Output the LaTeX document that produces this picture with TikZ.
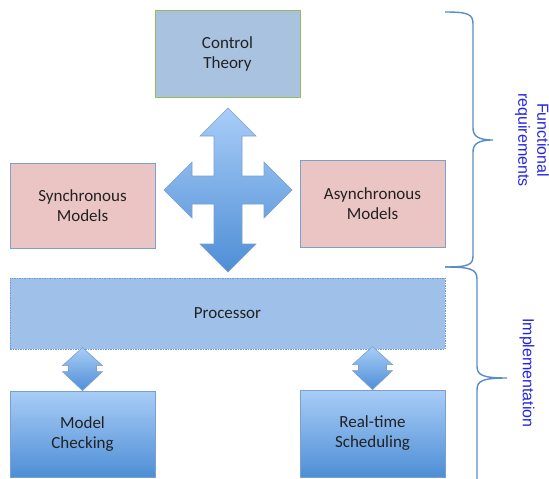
\documentclass[tikz,border=0pt]{standalone}
\usepackage{fontspec}
\setmainfont{Carlito}
\newfontfamily\sidefont{Liberation Sans}

\definecolor{ctfill}{HTML}{A8C2E0}
\definecolor{ctline}{HTML}{9BBB59}
\definecolor{pinkfill}{HTML}{EBC4C4}
\definecolor{boxline}{HTML}{7BA0CD}
\definecolor{procfill}{HTML}{9FC1E9}
\definecolor{procline}{HTML}{6E9BD1}
\definecolor{lighttop}{HTML}{A9CDF7}
\definecolor{darkbot}{HTML}{4E8ED6}
\definecolor{bracecol}{HTML}{5B8CC4}
\definecolor{sidetext}{HTML}{2424E8}
\definecolor{boxtext}{HTML}{222222}

\begin{document}
\begin{tikzpicture}[x=1pt, y=-1pt]
    \useasboundingbox (0,0) rectangle (549,479);
    \tikzset{Box/.style = {draw=boxline, line width=0.8pt, minimum width=145pt, inner sep=0pt,
                           align=center, text=boxtext, font=\fontsize{17}{20}\selectfont},
             GradBox/.style = {Box, top color=lighttop, bottom color=darkbot},
             BigArrow/.style = {draw=boxline, line width=0.6pt, top color=lighttop, bottom color=darkbot},
             Brace/.style = {draw=bracecol, line width=1.4pt},
             SideLabel/.style = {rotate=-90, align=center, text=sidetext,
                                 font=\sidefont\fontsize{16}{19}\selectfont}}

    % Boxes
    \node[Box, fill=ctfill, draw=ctline, minimum height=87pt] (control) at (227.5,53.5) {Control\\Theory};
    \node[Box, fill=pinkfill, minimum height=85pt] (sync) at (82.5,205.5) {Synchronous\\Models};
    \node[Box, fill=pinkfill, minimum height=87pt] (async) at (372.5,203.5) {Asynchronous\\Models};
    \node[Box, fill=procfill, draw=procline, dash pattern=on 1.5pt off 1pt, line width=0.6pt,
          minimum width=435pt, minimum height=71pt] (proc) at (227.5,313.5) {Processor};
    \node[GradBox, minimum height=86pt] (check) at (82.5,434) {Model\\Checking};
    \node[GradBox, minimum height=87pt] (sched) at (372.5,433.5) {Real-time\\Scheduling};

    % Arrows
    \coordinate (hub) at (228,190);
    \draw[BigArrow, shift={(hub)}] (0,-82) -- (28,-54) -- (14,-54) -- (14,-14) -- (36,-14) -- (36,-28)
        -- (64,0) -- (36,28) -- (36,14) -- (14,14) -- (14,54) -- (28,54) -- (0,82) -- (-28,54)
        -- (-14,54) -- (-14,14) -- (-36,14) -- (-36,28) -- (-64,0) -- (-36,-28) -- (-36,-14)
        -- (-14,-14) -- (-14,-54) -- (-28,-54) -- cycle;
    \foreach \b in {check,sched}
        \draw[BigArrow, shift={(\b.north)}] (0,0) -- (20,-19) -- (14,-19) -- (14,-25) -- (20,-25)
            -- (0,-43) -- (-20,-25) -- (-14,-25) -- (-14,-19) -- (-20,-19) -- cycle;

    % Braces
    \coordinate (b1) at (445,12);
    \coordinate (b2) at (445,267);
    \draw[Brace] (b1) .. controls (468,12) and (473,14) .. (473,24) -- (473,128)
        .. controls (473,136) and (478,140) .. (493,140)
        .. controls (478,140) and (473,144) .. (473,152) -- (473,256)
        .. controls (473,265) and (468,267) .. (b2);
    \draw[Brace] (b2) .. controls (470,267) and (477,269) .. (477,279) -- (477,366)
        .. controls (477,375) and (482,378) .. (507,378)
        .. controls (482,378) and (477,381) .. (477,390) -- (477,480);

    % Labels
    \node[SideLabel] (func) at (532,140) {Functional\\requirements};
    \node[SideLabel] (impl) at (527,373) {Implementation};
\end{tikzpicture}
\end{document}
